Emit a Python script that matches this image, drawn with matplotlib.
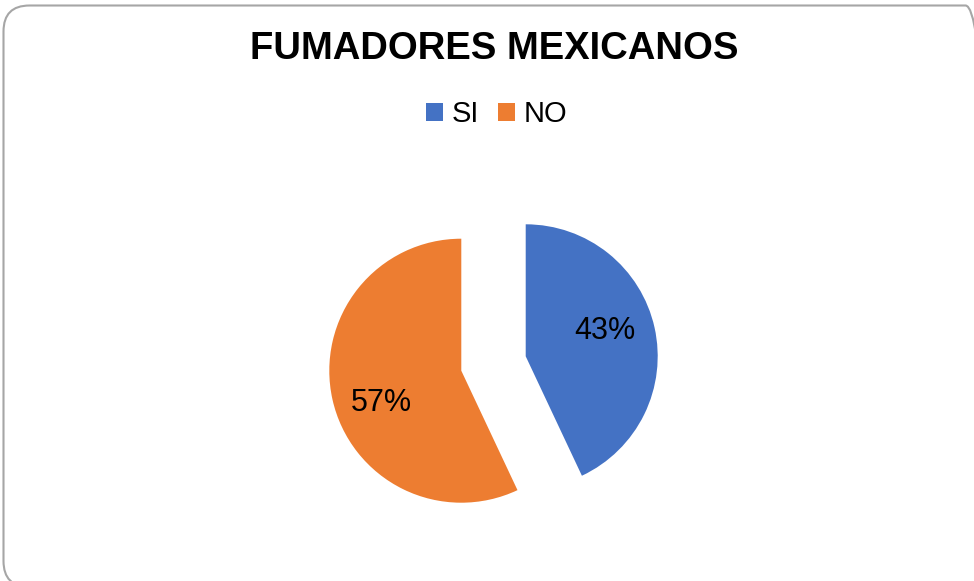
import numpy as np
import matplotlib.pyplot as plt
from matplotlib.patches import FancyBboxPatch
from matplotlib.transforms import IdentityTransform

labels = ["SI", "NO"]
values = [43, 57]
colors = ["#4472C4", "#ED7D31"]
title = "FUMADORES MEXICANOS"

plt.rcParams["font.family"] = ["Liberation Sans", "DejaVu Sans"]

W, H = 974, 581
fig = plt.figure(figsize=(W / 100, H / 100), dpi=100, facecolor="white")

# rounded chart border, in pixels (origin bottom-left)
fig.patches.append(FancyBboxPatch(
    (3.5, -6), 988, H - 5.5 + 6,
    boxstyle="round,pad=0,rounding_size=26", transform=IdentityTransform(),
    facecolor="none", edgecolor="#a6a6a6", lw=1.5))

fig.text(494 / W, 1 - 49 / H, title, ha="center", va="center",
         fontsize=27.5, fontweight="bold", color="black")

# pie axes: centre (493.5, 363.5) px, radius 132 px
r = 132
half = 1.5 * r
ax = fig.add_axes([(493.5 - half) / W, (H - 363.5 - half) / H, 2 * half / W, 2 * half / H])
wedges, _, autotexts = ax.pie(
    values, colors=colors, startangle=90, counterclock=False,
    explode=[0.25, 0.25], autopct="%1.0f%%", pctdistance=0.63,
    textprops=dict(fontsize=22, color="black"),
    wedgeprops=dict(linewidth=0))

# labels sit a little counter-clockwise of the wedge middle
for w, t in zip(wedges, autotexts):
    ang = np.deg2rad((w.theta1 + w.theta2) / 2 + 7)
    cx, cy = w.center
    t.set_position((cx + 0.64 * np.cos(ang), cy + 0.64 * np.sin(ang)))
    t.set_va("center_baseline")

ax.set_xlim(-1.5, 1.5)
ax.set_ylim(-1.5, 1.5)
ax.set_aspect("equal")
ax.axis("off")

fig.legend(wedges, labels, loc="center", bbox_to_anchor=(497 / W, 1 - 114 / H),
           ncol=2, frameon=False, fontsize=21, handlelength=0.58, handleheight=0.58,
           handletextpad=0.3, columnspacing=0.65)

fig.savefig("out.png", dpi=100, facecolor="white")
